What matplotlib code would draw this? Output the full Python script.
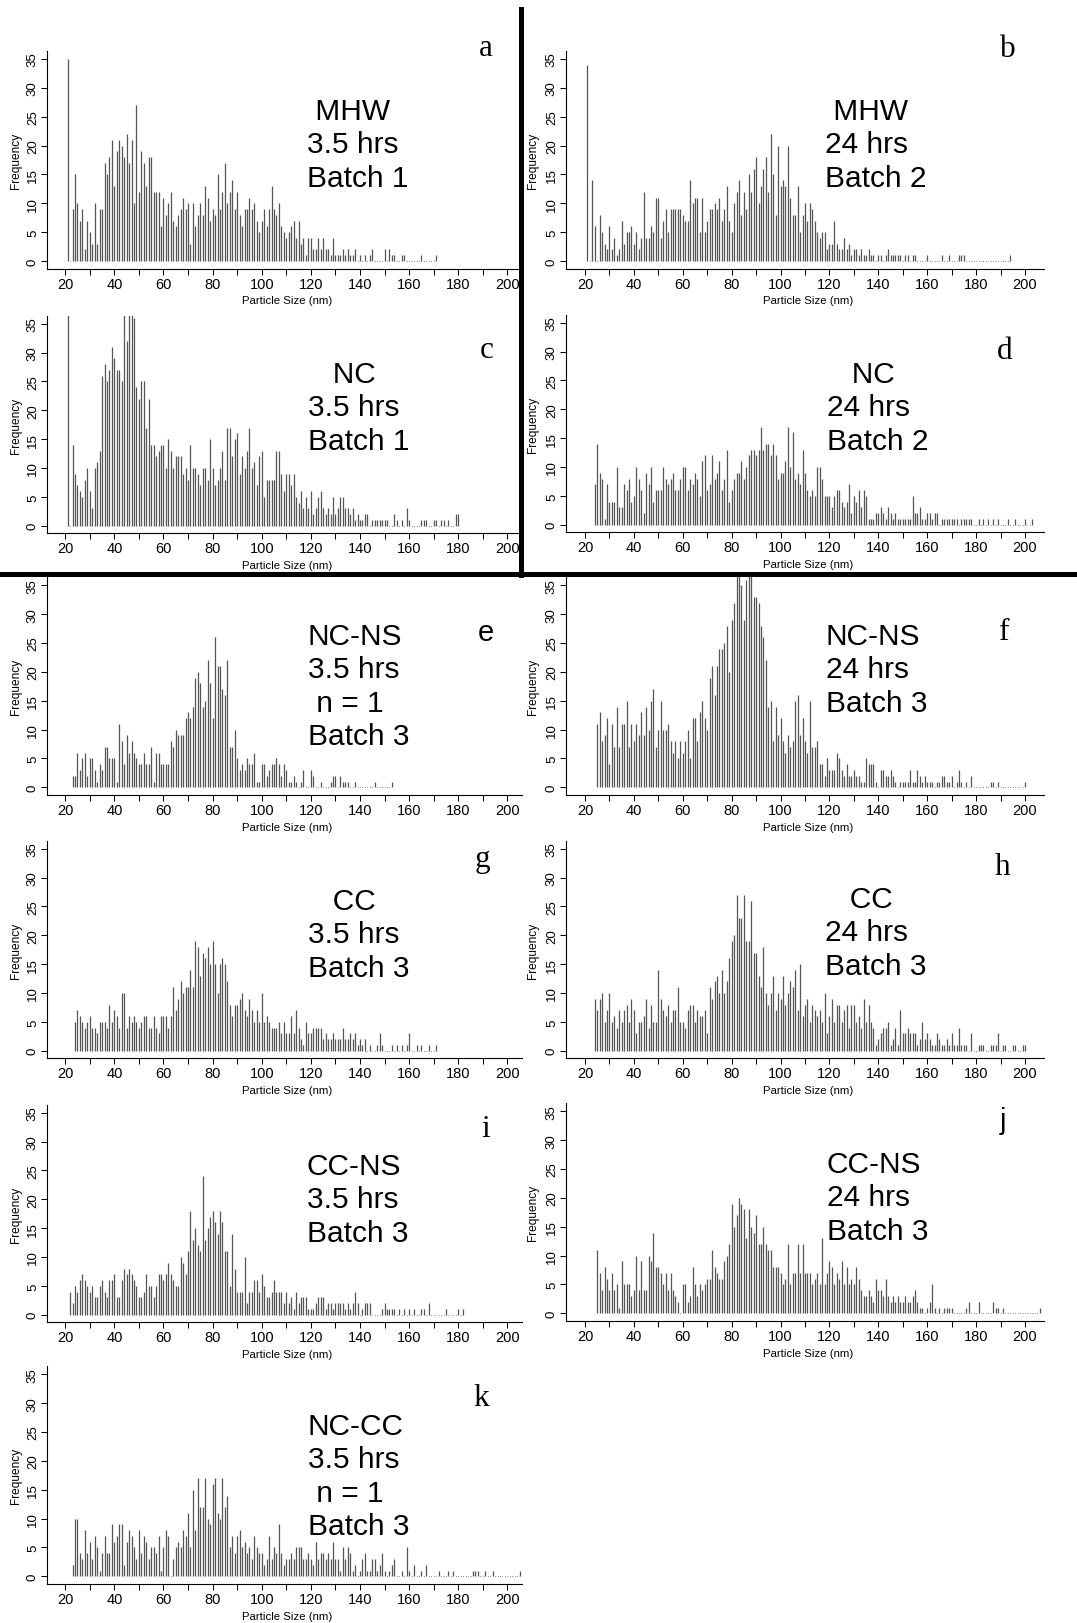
import numpy as np
import matplotlib
matplotlib.use("Agg")
import matplotlib.pyplot as plt
from matplotlib.lines import Line2D

plt.rcParams['font.family'] = ['Liberation Sans', 'DejaVu Sans']

# particle counts per 1 nm size bin, each row is ten bins starting at 20 nm
mhw_3h = [
    0, 35, 0, 9, 15, 10, 7, 9, 2, 7,
    5, 3, 10, 3, 9, 9, 17, 15, 18, 21,
    13, 19, 21, 20, 18, 22, 17, 21, 10, 27,
    12, 19, 17, 13, 18, 18, 12, 12, 12, 6,
    11, 8, 10, 12, 7, 6, 8, 9, 11, 9,
    10, 3, 10, 6, 8, 10, 8, 13, 11, 7,
    9, 8, 15, 9, 12, 17, 10, 12, 14, 9,
    12, 8, 6, 9, 9, 11, 9, 10, 7, 5,
    7, 9, 6, 9, 13, 9, 8, 10, 6, 5,
    4, 5, 6, 7, 4, 7, 3, 4, 1, 4,
    4, 2, 2, 4, 2, 4, 2, 2, 1, 4,
    1, 1, 1, 2, 1, 2, 1, 1, 2, 0,
    1, 0, 1, 0, 1, 2, 0, 0, 0, 0,
    2, 0, 2, 1, 1, 0, 0, 1, 1, 0,
    0, 0, 0, 0, 0, 1, 0, 0, 0, 0,
    0, 1,
]
mhw_24h = [
    0, 34, 0, 14, 6, 0, 8, 5, 3, 2,
    6, 2, 4, 1, 2, 7, 3, 5, 5, 6,
    3, 5, 2, 4, 12, 4, 4, 6, 5, 11,
    11, 4, 7, 9, 5, 9, 9, 9, 9, 9,
    8, 7, 7, 14, 10, 11, 11, 5, 11, 5,
    7, 9, 9, 10, 9, 11, 7, 9, 13, 7,
    5, 10, 12, 14, 8, 12, 9, 15, 12, 16,
    18, 10, 13, 16, 18, 12, 22, 15, 8, 20,
    13, 14, 13, 20, 11, 8, 8, 13, 5, 8,
    10, 7, 10, 9, 7, 5, 4, 5, 5, 2,
    3, 3, 7, 3, 2, 2, 4, 2, 3, 1,
    2, 2, 1, 2, 1, 1, 2, 1, 1, 0,
    1, 1, 0, 1, 2, 1, 1, 1, 1, 1,
    0, 1, 1, 0, 1, 1, 0, 0, 0, 0,
    1, 0, 0, 0, 0, 0, 1, 0, 0, 1,
    0, 0, 0, 1, 1, 1, 0, 0, 0, 0,
    0, 0, 0, 0, 0, 0, 0, 0, 0, 0,
    0, 0, 0, 0, 1,
]
nc_3h = [
    0, 40, 0, 14, 9, 7, 6, 5, 8, 10,
    6, 3, 10, 11, 13, 26, 28, 25, 27, 31,
    29, 27, 27, 25, 38, 32, 38, 38, 36, 24,
    22, 25, 25, 17, 22, 14, 14, 12, 13, 14,
    14, 10, 15, 13, 10, 12, 12, 12, 9, 10,
    8, 14, 10, 10, 9, 7, 10, 10, 8, 15,
    10, 7, 8, 10, 13, 8, 17, 17, 12, 15,
    16, 9, 12, 10, 13, 17, 10, 11, 7, 12,
    13, 5, 8, 8, 8, 8, 13, 13, 9, 6,
    9, 9, 7, 9, 5, 4, 6, 3, 5, 3,
    6, 2, 3, 5, 6, 3, 2, 3, 2, 5,
    2, 3, 5, 5, 3, 3, 2, 3, 1, 2,
    1, 1, 2, 2, 0, 1, 1, 1, 1, 1,
    1, 1, 0, 0, 2, 1, 0, 1, 0, 3,
    1, 0, 0, 0, 0, 1, 1, 1, 0, 0,
    1, 1, 0, 1, 1, 0, 1, 0, 0, 2,
    2,
]
nc_24h = [
    0, 0, 0, 0, 7, 14, 9, 8, 1, 7,
    4, 4, 4, 10, 3, 3, 7, 6, 8, 4,
    5, 10, 8, 6, 2, 9, 7, 10, 4, 6,
    6, 6, 10, 8, 7, 8, 9, 6, 6, 8,
    10, 10, 6, 8, 7, 9, 8, 5, 11, 12,
    6, 7, 12, 8, 9, 11, 6, 8, 13, 4,
    6, 8, 9, 9, 11, 8, 10, 12, 13, 13,
    12, 13, 17, 13, 14, 14, 12, 14, 12, 8,
    9, 9, 11, 17, 10, 16, 8, 9, 7, 13,
    9, 6, 5, 6, 5, 10, 10, 8, 5, 5,
    5, 3, 5, 6, 6, 4, 3, 4, 7, 2,
    5, 4, 6, 3, 6, 5, 1, 1, 1, 2,
    2, 3, 2, 1, 3, 2, 1, 2, 1, 1,
    1, 1, 1, 1, 5, 2, 2, 3, 1, 1,
    2, 2, 1, 2, 2, 0, 1, 1, 1, 1,
    1, 1, 1, 0, 1, 1, 1, 1, 1, 0,
    0, 1, 0, 1, 0, 1, 0, 1, 0, 1,
    0, 0, 0, 1, 0, 0, 1, 0, 0, 0,
    1, 0, 0, 1,
]
ncns_3h = [
    0, 0, 0, 2, 2, 6, 3, 5, 6, 2,
    5, 5, 3, 1, 4, 3, 7, 7, 5, 5,
    5, 1, 11, 8, 4, 9, 6, 8, 6, 5,
    4, 4, 6, 4, 4, 7, 1, 6, 6, 4,
    4, 4, 4, 8, 7, 10, 9, 9, 9, 12,
    13, 12, 14, 19, 20, 18, 14, 15, 22, 18,
    12, 26, 21, 21, 17, 16, 22, 7, 7, 10,
    5, 3, 4, 3, 5, 4, 4, 6, 1, 1,
    4, 4, 2, 3, 4, 4, 5, 4, 2, 4,
    3, 1, 1, 2, 1, 0, 1, 3, 0, 0,
    3, 2, 0, 0, 1, 0, 0, 0, 1, 2,
    2, 0, 2, 1, 1, 1, 0, 0, 1, 0,
    0, 0, 0, 0, 0, 0, 1, 0, 0, 0,
    0, 0, 0, 1,
]
ncns_24h = [
    0, 0, 0, 0, 0, 11, 13, 8, 9, 12,
    4, 11, 7, 14, 7, 11, 11, 15, 7, 11,
    8, 11, 9, 13, 9, 14, 10, 15, 17, 7,
    10, 15, 10, 10, 11, 8, 6, 8, 5, 8,
    6, 8, 10, 5, 12, 12, 8, 13, 15, 12,
    10, 19, 21, 16, 21, 24, 24, 25, 28, 20,
    29, 32, 38, 38, 35, 29, 36, 38, 38, 33,
    33, 32, 28, 26, 22, 14, 15, 8, 14, 9,
    12, 8, 6, 9, 7, 8, 15, 16, 9, 12,
    8, 6, 15, 7, 7, 8, 4, 4, 2, 5,
    3, 3, 3, 6, 5, 3, 2, 4, 2, 2,
    3, 2, 2, 1, 1, 5, 4, 4, 4, 1,
    0, 3, 3, 2, 2, 3, 2, 1, 0, 1,
    1, 1, 1, 3, 1, 1, 3, 2, 1, 2,
    1, 1, 1, 0, 1, 1, 2, 2, 1, 1,
    2, 0, 1, 3, 1, 0, 1, 0, 2, 0,
    0, 0, 0, 0, 0, 0, 1, 1, 0, 1,
    0, 0, 0, 0, 0, 0, 0, 0, 0, 0,
    1,
]
cc_3h = [
    0, 0, 0, 0, 5, 7, 6, 5, 4, 5,
    6, 4, 4, 3, 5, 5, 5, 4, 8, 5,
    7, 6, 4, 10, 10, 4, 6, 5, 6, 5,
    4, 5, 6, 6, 4, 4, 6, 4, 3, 6,
    6, 6, 4, 6, 11, 7, 9, 12, 10, 11,
    11, 14, 11, 19, 18, 13, 17, 16, 18, 15,
    19, 15, 10, 15, 16, 15, 12, 8, 6, 8,
    8, 9, 10, 7, 6, 9, 7, 5, 7, 5,
    10, 5, 6, 5, 4, 4, 4, 5, 3, 5,
    3, 3, 6, 3, 7, 4, 2, 1, 5, 3,
    3, 4, 4, 4, 4, 2, 3, 2, 2, 3,
    2, 2, 2, 4, 2, 2, 3, 2, 3, 1,
    2, 1, 2, 0, 1, 0, 0, 1, 3, 1,
    0, 0, 0, 1, 0, 1, 0, 1, 0, 1,
    3, 0, 0, 1, 0, 1, 0, 0, 1, 0,
    0, 1,
]
cc_24h = [
    0, 0, 0, 0, 9, 7, 9, 10, 5, 7,
    10, 5, 6, 4, 7, 5, 7, 8, 5, 9,
    7, 3, 5, 5, 6, 9, 4, 8, 5, 5,
    14, 9, 7, 6, 8, 5, 7, 7, 11, 5,
    5, 4, 7, 8, 8, 5, 7, 6, 6, 7,
    3, 11, 9, 12, 13, 10, 14, 10, 12, 16,
    19, 20, 27, 23, 23, 27, 19, 19, 26, 17,
    17, 13, 11, 18, 10, 8, 10, 13, 7, 10,
    9, 13, 8, 10, 12, 11, 14, 7, 15, 6,
    8, 9, 5, 8, 7, 6, 7, 5, 10, 3,
    6, 9, 5, 8, 8, 5, 7, 8, 4, 8,
    8, 5, 6, 4, 9, 5, 8, 5, 4, 1,
    2, 3, 4, 4, 5, 1, 2, 4, 1, 7,
    3, 3, 4, 3, 3, 3, 1, 2, 5, 2,
    3, 2, 1, 1, 3, 2, 1, 1, 2, 1,
    3, 1, 1, 4, 1, 1, 1, 0, 3, 0,
    0, 1, 1, 1, 0, 0, 1, 1, 1, 3,
    0, 1, 1, 0, 0, 1, 1, 0, 0, 1,
    1,
]
ccns_3h = [
    0, 0, 4, 2, 5, 4, 6, 7, 6, 5,
    4, 5, 3, 3, 5, 6, 4, 3, 6, 6,
    7, 3, 3, 6, 8, 7, 8, 7, 6, 5,
    3, 3, 4, 7, 5, 5, 3, 5, 7, 7,
    6, 7, 9, 7, 6, 5, 5, 10, 9, 7,
    11, 18, 13, 15, 12, 11, 24, 13, 15, 17,
    18, 16, 14, 18, 16, 11, 11, 5, 14, 8,
    4, 4, 4, 10, 2, 4, 4, 6, 6, 4,
    7, 5, 3, 3, 4, 6, 4, 4, 4, 2,
    4, 2, 3, 1, 4, 2, 3, 3, 3, 1,
    1, 1, 2, 3, 3, 3, 1, 2, 2, 1,
    2, 2, 2, 2, 1, 2, 1, 2, 4, 2,
    0, 1, 2, 2, 2, 0, 0, 0, 0, 1,
    2, 1, 1, 1, 1, 0, 1, 0, 1, 0,
    1, 0, 1, 0, 0, 1, 1, 0, 2, 0,
    0, 0, 0, 0, 0, 1, 0, 0, 0, 0,
    1, 0, 1,
]
ccns_24h = [
    0, 0, 0, 0, 0, 11, 7, 4, 8, 6,
    4, 7, 4, 5, 1, 9, 5, 5, 5, 3,
    4, 10, 4, 9, 4, 4, 10, 9, 14, 8,
    8, 7, 5, 7, 4, 7, 4, 3, 2, 0,
    5, 5, 2, 3, 8, 5, 3, 5, 4, 5,
    6, 6, 11, 8, 7, 6, 6, 9, 10, 12,
    19, 15, 17, 20, 19, 18, 13, 18, 15, 14,
    17, 12, 12, 15, 12, 11, 11, 8, 8, 8,
    7, 5, 6, 12, 5, 7, 7, 12, 7, 12,
    7, 7, 7, 5, 6, 7, 5, 13, 5, 7,
    9, 8, 5, 7, 6, 9, 5, 8, 5, 6,
    5, 8, 6, 4, 3, 3, 4, 3, 2, 6,
    4, 4, 3, 6, 3, 2, 3, 2, 3, 2,
    2, 3, 2, 2, 3, 4, 2, 1, 1, 0,
    1, 2, 5, 1, 0, 1, 0, 1, 1, 1,
    1, 0, 0, 0, 0, 0, 1, 2, 0, 0,
    0, 2, 0, 0, 0, 0, 0, 2, 1, 1,
    0, 1, 0, 0, 0, 0, 0, 0, 0, 0,
    0, 0, 0, 0, 0, 0, 1,
]
nccc_3h = [
    0, 0, 0, 2, 10, 10, 4, 3, 8, 4,
    6, 3, 7, 5, 1, 4, 7, 4, 4, 9,
    6, 7, 9, 9, 2, 6, 8, 7, 5, 3,
    8, 4, 7, 6, 3, 5, 5, 4, 7, 1,
    5, 8, 7, 0, 3, 5, 6, 5, 8, 7,
    11, 5, 15, 8, 17, 12, 12, 17, 10, 9,
    16, 17, 11, 10, 17, 12, 14, 5, 7, 4,
    7, 8, 5, 6, 4, 5, 3, 7, 5, 4,
    4, 2, 3, 7, 3, 5, 4, 9, 4, 2,
    3, 3, 4, 3, 5, 5, 5, 3, 3, 4,
    3, 2, 6, 3, 4, 4, 3, 4, 3, 6,
    3, 3, 1, 5, 3, 5, 4, 1, 2, 0,
    1, 3, 4, 1, 1, 3, 3, 1, 2, 4,
    1, 0, 1, 2, 3, 0, 0, 1, 0, 5,
    1, 0, 2, 0, 0, 1, 0, 2, 0, 0,
    0, 0, 1, 0, 0, 0, 1, 0, 1, 0,
    0, 0, 0, 0, 0, 0, 1, 1, 1, 0,
    0, 1, 0, 0, 1, 0, 0, 0, 0, 0,
    0, 0, 0, 0, 0, 1,
]

W, H = 1077, 1624
fig = plt.figure(figsize=(W / 100, H / 100), dpi=100)
fig.patch.set_facecolor('white')


def fx(x):
    return x / W


def fy(y):
    return 1 - y / H


# column geometry in pixels: axes box and the positions of the 20 / 200 nm ticks
COLS = {
    'L': dict(left=47, right=522, x20=65.2, x200=507.4, ylab=16),
    'R': dict(left=566, right=1044, x20=585, x200=1025, ylab=533),
}
PX_PER_UNIT = 5.77
Y_LO, Y_HI = -1.3, 36.4
BAR_COLOR = '#555555'

# (counts, label lines, panel letter, column, y of zero line, text pos, letter pos)
panels = [
    (mhw_3h, [' MHW', '3.5 hrs', 'Batch 1'], 'a', 'L', 262, (307, 98), (479, 56)),
    (mhw_24h, [' MHW', '24 hrs', 'Batch 2'], 'b', 'R', 262, (825, 98), (1000, 57)),
    (nc_3h, ['   NC', '3.5 hrs', 'Batch 1'], 'c', 'L', 526.7, (308, 361), (480, 358)),
    (nc_24h, ['   NC', '24 hrs', 'Batch 2'], 'd', 'R', 525.7, (827, 361), (997, 359)),
    (ncns_3h, ['NC-NS', '3.5 hrs', ' n = 1', 'Batch 3'], 'e', 'L', 788.3, (308, 623), (478, 641)),
    (ncns_24h, ['NC-NS', '24 hrs', 'Batch 3'], 'f', 'R', 788.3, (826, 623), (999, 640)),
    (cc_3h, ['   CC', '3.5 hrs', 'Batch 3'], 'g', 'L', 1051.7, (308, 888), (475, 867)),
    (cc_24h, ['   CC', '24 hrs', 'Batch 3'], 'h', 'R', 1051.7, (825, 886), (995, 875)),
    (ccns_3h, ['CC-NS', '3.5 hrs', 'Batch 3'], 'i', 'L', 1315.7, (307, 1153), (481, 1137)),
    (ccns_24h, ['CC-NS', '24 hrs', 'Batch 3'], 'j', 'R', 1314.3, (827, 1151), (1000, 1129)),
    (nccc_3h, ['NC-CC', '3.5 hrs', ' n = 1', 'Batch 3'], 'k', 'L', 1577.3, (308, 1413), (473, 1406)),
]

sans_letters = {'e', 'j'}

for counts, lines, letter, col, zero_y, (tx, ty), (lx, ly) in panels:
    c = COLS[col]
    ppn = (c['x200'] - c['x20']) / 180.0
    x0 = 20 - (c['x20'] - c['left']) / ppn
    x1 = 20 + (c['right'] - c['x20']) / ppn
    bottom = zero_y - Y_LO * PX_PER_UNIT
    top = zero_y - Y_HI * PX_PER_UNIT
    ax = fig.add_axes([fx(c['left']), fy(bottom),
                       (c['right'] - c['left']) / W, (bottom - top) / H])

    counts = np.array(counts)
    sizes = 20 + np.arange(len(counts))
    nz = np.nonzero(counts)[0]
    ax.vlines(sizes, 0, counts, colors=BAR_COLOR, linewidth=0.9)
    # empty bins inside the observed range show as tiny dots on the baseline
    inner = np.arange(nz[0], nz[-1] + 1)
    empty = inner[counts[inner] == 0]
    ax.scatter(sizes[empty], np.zeros(len(empty)), s=0.6, color='#8a8a8a',
               linewidths=0)

    ax.set_xlim(x0, x1)
    ax.set_ylim(Y_LO, Y_HI)
    ax.set_xticks(np.arange(20, 201, 20))
    ax.set_xticks(np.arange(30, 200, 20), minor=True)
    ax.set_yticks(np.arange(0, 36, 5))
    ax.set_yticklabels([str(v) for v in range(0, 36, 5)], rotation=90, va='center')
    ax.tick_params(axis='both', which='both', direction='out', length=4.3, width=0.75)
    ax.tick_params(axis='x', labelsize=10.5, pad=1.5)
    ax.tick_params(axis='y', labelsize=9.5, pad=1.5)
    for side in ('top', 'right'):
        ax.spines[side].set_visible(False)
    for side in ('left', 'bottom'):
        ax.spines[side].set_linewidth(0.8)
    ax.set_facecolor('none')

    fig.text(fx((c['left'] + c['right']) / 2 + 3), fy(zero_y + 39.5), 'Particle Size (nm)',
             ha='center', va='center', fontsize=8.2)
    fig.text(fx(c['ylab']), fy((top + bottom) / 2), 'Frequency', rotation=90,
             ha='center', va='center', fontsize=8.6)

    fig.text(fx(tx), fy(ty), '\n'.join(lines), ha='left', va='top',
             fontsize=21.5, linespacing=1.24)
    if letter in sans_letters:
        fig.text(fx(lx), fy(ly), letter, family=['Liberation Sans'], fontsize=21,
                 ha='left', va='baseline')
    else:
        fig.text(fx(lx), fy(ly), letter, family=['Liberation Serif'], fontsize=22.5,
                 ha='left', va='baseline')

# panel dividers
fig.add_artist(Line2D([fx(521), fx(521)], [fy(10), fy(576)], lw=3.6, color='black'))
fig.add_artist(Line2D([0, 1], [fy(574.5), fy(574.5)], lw=3.6, color='black'))

fig.savefig('out.png', dpi=100, facecolor='white')
